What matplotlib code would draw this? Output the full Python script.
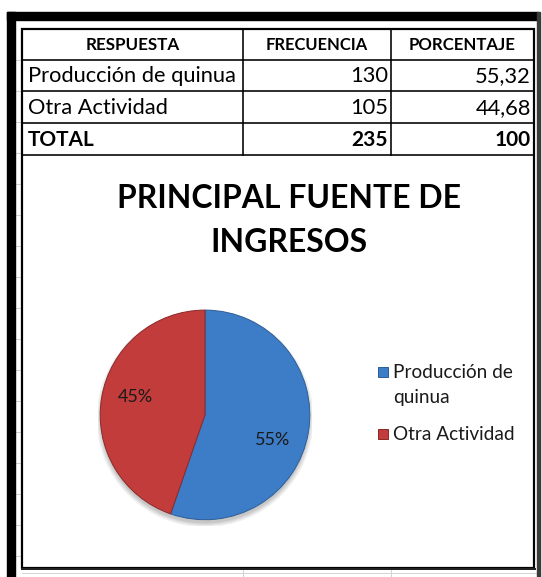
import matplotlib
matplotlib.use("Agg")
import matplotlib.pyplot as plt
import numpy as np
from matplotlib.patches import Rectangle, Circle

# ---------------- data ----------------
headers = ["RESPUESTA", "FRECUENCIA", "PORCENTAJE"]
categories = ["Producción de quinua", "Otra Actividad"]
frecuencia = [130, 105]
porcentaje = [55.32, 44.68]
total_label = "TOTAL"
total_frecuencia = 235
total_porcentaje = 100
title = "PRINCIPAL FUENTE DE\nINGRESOS"
legend_labels = ["Producción de\nquinua", "Otra Actividad"]
colors = ["#3D7CC6", "#C23C3C"]
edge_colors = ["#2F5F99", "#8E2A2A"]

W, H = 542, 577
FONT = "Lato"
fig = plt.figure(figsize=(W / 100, H / 100), dpi=100)
fig.patch.set_facecolor("white")
bg = fig.add_axes([0, 0, 1, 1])
bg.set_xlim(0, W)
bg.set_ylim(H, 0)
bg.axis("off")

renderer = fig.canvas.get_renderer()


def fit(t, width):
    bb = t.get_window_extent(renderer)
    t.set_fontsize(t.get_fontsize() * width / bb.width)
    return t


def px(w):
    return w * 72 / 100

# faint spreadsheet gridlines outside the box
for y in range(60, 577, 31):
    bg.plot([15, 21], [y, y], color="#d4d4d4", lw=px(1), zorder=1)
for x in [243, 391]:
    bg.plot([x, x], [570, 577], color="#d4d4d4", lw=px(1), zorder=1)
bg.plot([22, 537], [573, 573], color="#d4d4d4", lw=px(1), zorder=1)

# outer thick frame
bg.add_patch(Rectangle((7, 12), 531, 8, color="black", zorder=3))
bg.add_patch(Rectangle((7, 12), 8, 570, color="black", zorder=3))
bg.add_patch(Rectangle((537, 12), 3, 570, color="#3a3a3a", zorder=3))

# inner box
bg.add_patch(Rectangle((22, 29), 512, 539, fill=False, edgecolor="black",
                       lw=px(2.2), zorder=4))
bg.plot([22, 535], [569, 569], color="#222222", lw=px(2), zorder=4)

# table grid
row_y = [29, 60, 91, 123, 155]
col_x = [22, 243, 391, 534]
for y in row_y[1:]:
    bg.plot([col_x[0], col_x[-1]], [y, y], color="black", lw=px(1.6), zorder=4)
for x in col_x[1:-1]:
    bg.plot([x, x], [row_y[0], row_y[-1]], color="black", lw=px(1.6), zorder=4)

# header
hdr_widths = [94, 102, 107]
for i, h in enumerate(headers):
    t = bg.text((col_x[i] + col_x[i + 1]) / 2, (row_y[0] + row_y[1]) / 2 + 1, h,
                ha="center", va="center", fontsize=10, fontweight="bold",
                family=FONT, color="black", zorder=5)
    fit(t, hdr_widths[i])


def fmt(v):
    return f"{v:.2f}".replace(".", ",")

body_size = None
for r, (cat, f, p) in enumerate(zip(categories, frecuencia, porcentaje)):
    yc = (row_y[r + 1] + row_y[r + 2]) / 2 + 1
    t = bg.text(28, yc, cat, ha="left", va="center", fontsize=12,
                family=FONT, color="black", zorder=5)
    if body_size is None:
        fit(t, 209)
        body_size = t.get_fontsize()
    else:
        t.set_fontsize(body_size)
    bg.text(col_x[2] - 3, yc, str(f), ha="right", va="center",
            fontsize=body_size, family=FONT, color="black", zorder=5)
    bg.text(col_x[3] - 3, yc, fmt(p), ha="right", va="center",
            fontsize=body_size, family=FONT, color="black", zorder=5)

yc = (row_y[3] + row_y[4]) / 2 + 1
tsize = body_size * 0.95
bg.text(28, yc, total_label, ha="left", va="center", fontsize=tsize,
        fontweight="bold", family=FONT, color="black", zorder=5)
bg.text(col_x[2] - 3, yc, str(total_frecuencia), ha="right", va="center",
        fontsize=tsize, fontweight="bold", family=FONT, color="black", zorder=5)
bg.text(col_x[3] - 3, yc, str(total_porcentaje), ha="right", va="center",
        fontsize=tsize, fontweight="bold", family=FONT, color="black", zorder=5)

# title
lines = title.split("\n")
t1 = bg.text(289, 198, lines[0], ha="center", va="center", fontsize=20,
             fontweight="bold", family=FONT, color="black", zorder=5)
fit(t1, 343)
bg.text(289, 243, lines[1], ha="center", va="center", fontsize=t1.get_fontsize(),
        fontweight="bold", family=FONT, color="black", zorder=5)

# pie
cx, cy, r = 205, 415, 107
pax = fig.add_axes([(cx - r) / W, (H - cy - r) / H, 2 * r / W, 2 * r / H])
# soft shadow under the pie
for k, a in enumerate([0.05, 0.05, 0.06, 0.07]):
    pax.add_patch(Circle((0.0, -0.035), 1.0 + 0.012 * (3 - k), color="black",
                         alpha=a, lw=0, zorder=0))
wedges, texts, autotexts = pax.pie(
    porcentaje, colors=colors, startangle=90, counterclock=False,
    autopct="%.0f%%", pctdistance=0.69,
    wedgeprops=dict(linewidth=px(1), zorder=2),
    textprops=dict(family=FONT, color="#1a1a1a", fontsize=11))
for w, ec in zip(wedges, edge_colors):
    w.set_edgecolor(ec)
pax.set_xlim(-1.02, 1.02)
pax.set_ylim(-1.06, 1.02)
pax.set_aspect("equal")
pax.set_position([(cx - r) / W, (H - cy - r - 4) / H, 2 * r / W, (2 * r + 4) / H])
# best-fit style label placement (Excel puts them off the bisector)
label_shift = [-11, -5]
for at, w, sh in zip(autotexts, wedges, label_shift):
    fit(at, 35)
    ang = np.deg2rad((w.theta1 + w.theta2) / 2 + sh)
    at.set_position((0.69 * np.cos(ang), 0.69 * np.sin(ang)))

# legend (manual)
leg_y = [372, 434]
for c, ec, y in zip(colors, edge_colors, leg_y):
    bg.add_patch(Rectangle((378, y - 5), 10, 10, facecolor=c, edgecolor=ec,
                           lw=px(1), zorder=5))
leg_texts = []
for lab, y in zip(legend_labels, leg_y):
    for k, part in enumerate(lab.split("\n")):
        leg_texts.append(bg.text(393, y + 25 * k, part, ha="left", va="center",
                                 fontsize=11, family=FONT, color="#1a1a1a",
                                 zorder=5))
probe = [tx for tx in leg_texts if tx.get_text() == "Otra Actividad"][0]
fit(probe, 122)
for tx in leg_texts:
    tx.set_fontsize(probe.get_fontsize())

fig.savefig("out.png", dpi=100, facecolor="white")
